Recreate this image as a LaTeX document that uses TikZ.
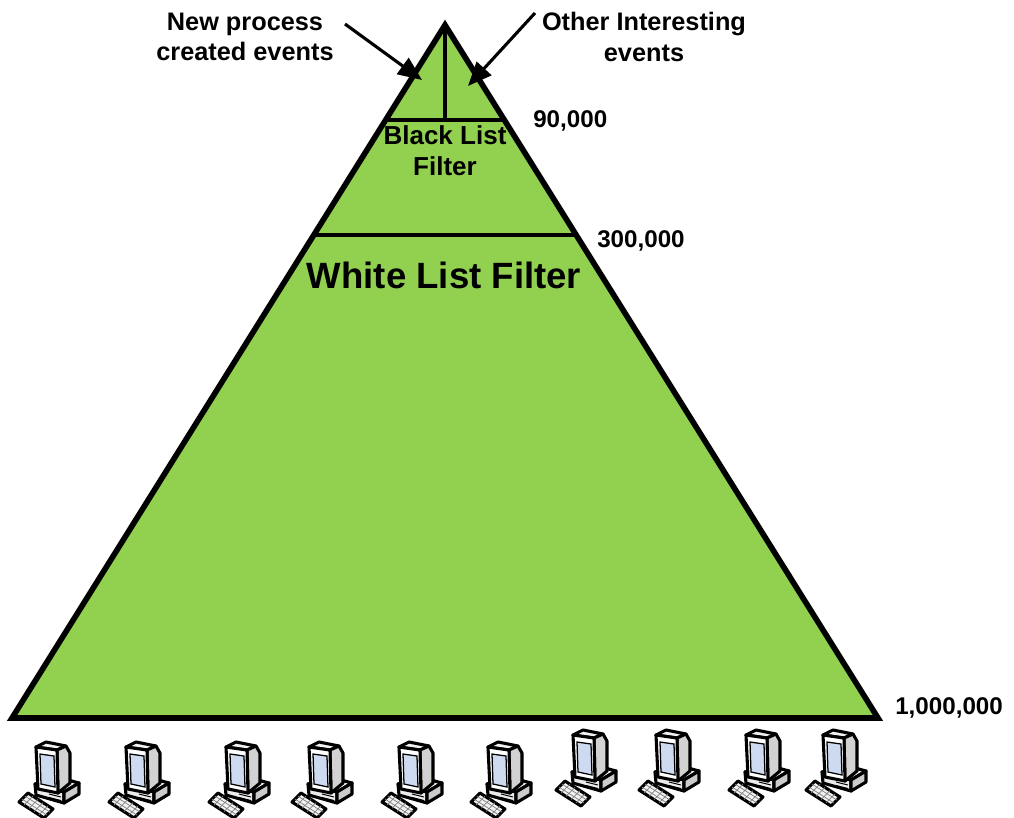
\documentclass[tikz,border=0pt]{standalone}
\usepackage{fontspec}
\setmainfont{Liberation Sans}
\usetikzlibrary{arrows.meta,calc}

\definecolor{pyrgreen}{RGB}{146,208,80}
\definecolor{screenblue}{RGB}{205,218,240}

\tikzset{
  eventtext/.style={font=\bfseries\fontsize{18}{21.5}\selectfont, align=center, inner sep=0pt},
  countlabel/.style={font=\bfseries\fontsize{17.2}{21}\selectfont, anchor=west, inner sep=0pt},
  evarrow/.style={line width=2.2pt, -{Triangle[length=17pt,width=14pt]}},
  pcline/.style={line width=2.2pt, line join=round},
  pc/.pic={
    % base
    \draw[pcline, fill=gray!8]  (18,47) -- (47,55) -- (62,46) -- (40,40) -- cycle;
    \draw[pcline, fill=gray!15] (18,47) -- (47,55) -- (47,66) -- (19,58) -- cycle;
    \draw[pcline, fill=gray!40] (47,55) -- (62,46) -- (62,57) -- (47,66) -- cycle;
    \draw[line width=0.7pt] (32,57) -- (44,60) (32,60.5) -- (44,63.5);
    % monitor
    \draw[pcline, fill=gray!10] (19,10) -- (29,5) -- (49,9) -- (40,13) -- cycle;
    \draw[pcline, fill=gray!35] (40,13) -- (49,9) -- (53,16) -- (53,46) -- (41,56) -- cycle;
    \draw[pcline, fill=white]   (19,10) -- (40,13) -- (41,56) -- (21,52) -- cycle;
    \draw[line width=0.9pt, fill=screenblue] (23,17) -- (37,19) -- (38,50) -- (24,47) -- cycle;
    % keyboard
    \draw[pcline, fill=gray!10] (2,65) -- (27,81) -- (36,72) -- (11,56) -- cycle;
    \foreach \t in {0.33,0.66}
      \draw[gray, line width=0.5pt] ($(2,65)+\t*(9,-9)$) -- ($(27,81)+\t*(9,-9)$);
    \foreach \t in {0.2,0.4,0.6,0.8}
      \draw[gray, line width=0.5pt] ($(2,65)+\t*(25,16)$) -- ($(11,56)+\t*(25,16)$);
  }
}

\begin{document}
\begin{tikzpicture}[x=0.025cm, y=-0.025cm]
\useasboundingbox (0,0) rectangle (1014,817);

\coordinate (apex) at (445,25);
\coordinate (bl) at (12,718);
\coordinate (br) at (878,718);

\draw[line width=4pt, fill=pyrgreen] (apex) -- (br) -- (bl) -- cycle;

% filter levels
\coordinate (bkl) at ($(apex)!0.137!(bl)$);
\coordinate (bkr) at ($(apex)!0.137!(br)$);
\coordinate (wtl) at ($(apex)!0.303!(bl)$);
\coordinate (wtr) at ($(apex)!0.303!(br)$);
\draw[line width=2.8pt] (bkl) -- (bkr);
\draw[line width=2.8pt] (wtl) -- (wtr);
\draw[line width=2.8pt] (apex) -- ($(bkl)!0.5!(bkr)$);

\node[eventtext] (newproc) at (245,37) {New process\\created events};
\node[eventtext] (other) at (644,37) {Other Interesting\\events};
\node[eventtext, font=\bfseries\fontsize{18.5}{22}\selectfont] (black) at (445,151) {Black List\\Filter};
\node[eventtext, font=\bfseries\fontsize{26}{30}\selectfont] (white) at (444,275) {White List Filter};

\node[countlabel] (n90) at (533,121) {90,000};
\node[countlabel] (n300) at (597,241) {300,000};
\node[countlabel] (n1m) at (895,708) {1,000,000};

\coordinate (npfrom) at (345,24);
\coordinate (npto) at (422,80);
\coordinate (otfrom) at (535,13);
\coordinate (otto) at (468,86);
\draw[evarrow] (npfrom) -- (npto);
\draw[evarrow] (otfrom) -- (otto);

% hosts
\foreach \x/\y in {17/737,107/737,207/737,290/737,380/737,469/737,554/725,637/725,727/725,804/725}
  \pic at (\x,\y) {pc};

\end{tikzpicture}
\end{document}
